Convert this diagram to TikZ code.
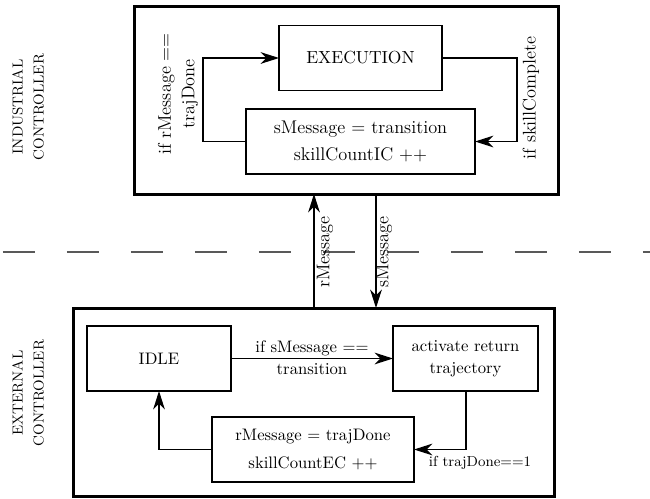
\documentclass[tikz,border=0pt]{standalone}
\usetikzlibrary{arrows.meta}
\begin{document}
\begin{tikzpicture}[x=0.6pt,y=-0.6pt,
  frame/.style={draw, line width=1.8pt, inner sep=0pt, outer sep=0pt},
  state/.style={draw, line width=0.8pt, inner sep=0pt, outer sep=0pt,
    align=center, minimum height=39pt},
  flow/.style={line width=0.8pt, -{Stealth[length=11pt,width=7pt,inset=3.5pt]}},
  link/.style={line width=0.8pt},
  toptxt/.style={font=\fontsize{11}{14}\selectfont},
  bottxt/.style={font=\fontsize{10}{13}\selectfont},
  smalltxt/.style={font=\fontsize{8.7}{12}\selectfont},
  side/.style={font=\fontsize{8.7}{12.6}\selectfont, rotate=90, align=center},
  divider/.style={draw=black!65, line width=1.2pt, dash pattern=on 19.2pt off 19.2pt},
]
\useasboundingbox (0,0) rectangle (650,498);

% boundary between the two controllers
\coordinate (dl) at (3,252);
\coordinate (dr) at (650,252);
\draw[divider] (dl) -- (dr);

% controller frames
\node[frame, minimum width=254.4pt, minimum height=112.8pt] (ic) at (346,100) {};
\node[frame, minimum width=288.6pt, minimum height=112.8pt] (ec) at (313.5,402) {};

% side labels
\node[side] (iclabel) at (28,107) {INDUSTRIAL\\CONTROLLER};
\node[side] (eclabel) at (28,393) {EXTERNAL\\CONTROLLER};

% industrial controller states
\node[state, minimum width=97.8pt, font=\fontsize{10.5}{13}\selectfont] (exec) at (360.5,58) {EXECUTION};
\node[state, minimum width=137.4pt, toptxt] (smsg) at (360.5,141.5)
  {sMessage = transition\\[2pt]skillCountIC ++};

\coordinate (lk) at (203,100);
\coordinate (rk) at (517,100);
\draw[flow] (smsg.west) -- (smsg.west -| lk) -- (exec.west -| lk) -- (exec.west);
\draw[flow] (exec.east) -- (exec.east -| rk) -- (smsg.east -| rk) -- (smsg.east);

\node[toptxt, rotate=90, align=center] (c1) at (178,94) {if rMessage ==\\trajDone};
\node[toptxt, rotate=90] (c2) at (531,98) {if skillComplete};

% messages between the controllers
\coordinate (rmx) at (314,252);
\coordinate (smx) at (376,252);
\draw[flow] (ec.north -| rmx) -- (ic.south -| rmx);
\draw[flow] (ic.south -| smx) -- (ec.north -| smx);
\node[toptxt, rotate=90] (rml) at (325,252) {rMessage};
\node[toptxt, rotate=90] (sml) at (384,252) {sMessage};

% external controller states
\node[state, minimum width=86.4pt, bottxt] (idle) at (159,358.5) {IDLE};
\node[state, minimum width=87pt, bottxt] (act) at (465.5,358.5)
  {activate return\\trajectory};
\node[state, minimum width=121.2pt, bottxt] (rmsg) at (313,449.5)
  {rMessage = trajDone\\[4pt]skillCountEC ++};

\draw[flow] (idle.east) -- (act.west);
\node[bottxt, align=center] (c3) at (312,358) {if sMessage ==\\transition};

\coordinate (bk) at (466,449.5);
\draw[flow] (act.south -| bk) -- (bk) -- (rmsg.east);
\node[smalltxt] (c4) at (480,463) {if trajDone==1};

\draw[flow] (rmsg.west) -| (idle.south);
\end{tikzpicture}
\end{document}
